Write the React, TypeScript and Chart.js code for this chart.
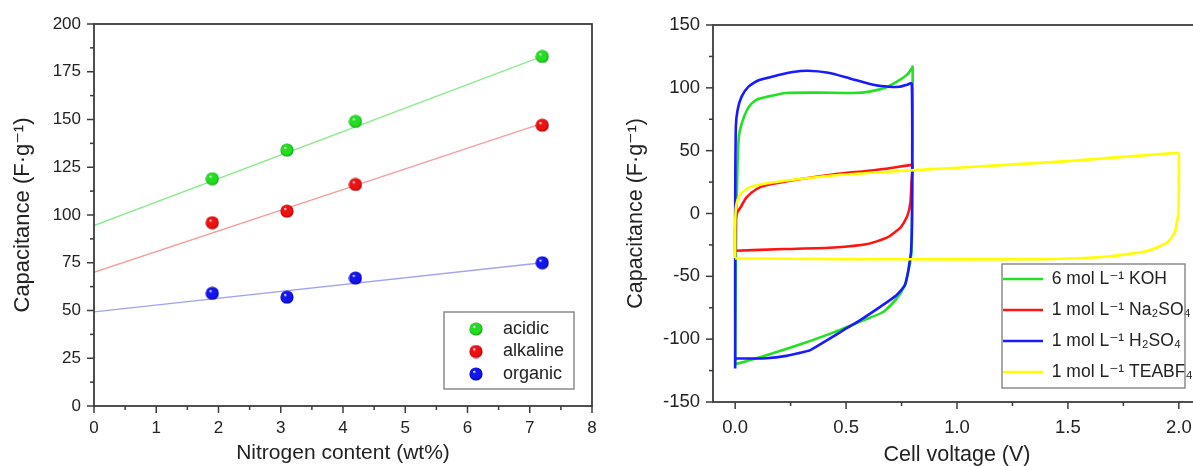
import React, { useEffect, useRef } from "react";
import { Chart, registerables } from "chart.js";

Chart.register(...registerables);

// ---------- Left chart data ----------
const nitrogenX = [1.9, 3.1, 4.2, 7.2];
const acidicY = [119, 134, 149, 183];
const alkalineY = [96, 102, 116, 147];
const organicY = [59, 57, 67, 75];
const fitX = [0, 7.2];
const acidicFit = [94.5, 183];
const alkalineFit = [70, 148];
const organicFit = [49.3, 75];
const leftLabels = ["acidic", "alkaline", "organic"];

// ---------- Right chart data ----------
const kohV = [0, 0.002, 0.005, 0.008, 0.012, 0.019, 0.04, 0.062, 0.095, 0.146, 0.23, 0.38, 0.53, 0.606, 0.682, 0.742, 0.775, 0.798, 0.8, 0.8, 0.798, 0.795, 0.788, 0.78, 0.765, 0.727, 0.667, 0.577, 0.441, 0.291, 0.141, 0.05, 0];
const kohC = [-121, -60, 0, 20, 47.6, 64, 77, 85, 90.5, 93, 95.9, 96.2, 95.9, 97, 100.5, 106.3, 110.5, 116, 117, 60, 0, -30, -40, -46, -57, -67.9, -78.4, -85, -94.8, -104.3, -112.8, -117.5, -120];

const na2so4V = [0, 0, 0.002, 0.01, 0.028, 0.05, 0.095, 0.14, 0.29, 0.44, 0.59, 0.68, 0.79, 0.8, 0.795, 0.79, 0.776, 0.746, 0.686, 0.596, 0.446, 0.22, 0];
const na2so4C = [-29.6, -15, -5, 1, 6, 12.7, 19.3, 22.4, 27.2, 31, 33.8, 35.6, 38.5, 38.5, 25, 8.7, -1.9, -11, -19, -24.3, -27, -28.3, -29.6];

const h2so4V = [0, 0, 0.003, 0.011, 0.029, 0.06, 0.106, 0.19, 0.26, 0.326, 0.42, 0.517, 0.634, 0.693, 0.74, 0.775, 0.796, 0.797, 0.793, 0.785, 0.78, 0.765, 0.727, 0.652, 0.562, 0.5, 0.441, 0.381, 0.336, 0.291, 0.231, 0.141, 0.06, 0];
const h2so4C = [-123.4, 0, 69, 82.6, 93, 101, 106, 110, 112.6, 113.6, 112, 107.5, 102, 100.9, 100.8, 102.5, 103.5, 0, -30, -40, -46, -57, -65, -74.5, -85, -91.5, -98, -104.3, -108.9, -110.9, -113.3, -115.2, -115.4, -115.4];

const teabf4V = [0, 0, 0.004, 0.019, 0.05, 0.095, 0.215, 0.44, 0.74, 0.92, 1.2, 1.5, 1.995, 2.0, 1.998, 1.99, 1.982, 1.948, 1.862, 1.692, 1.436, 1.0, 0.5, 0];
const teabf4C = [-35.7, -9.8, 6, 14, 19.3, 22.4, 25.8, 30.3, 33.8, 35.6, 38.5, 41.7, 48.3, 47, 0, -8, -15, -23, -29.6, -34, -36.2, -36.5, -36.3, -35.7];

const rightLabels = ["6 mol L⁻¹ KOH", "1 mol L⁻¹ Na₂SO₄", "1 mol L⁻¹ H₂SO₄", "1 mol L⁻¹ TEABF₄"];

const leftYTicks = { min: 0, max: 200, step: 25 };
const leftXTicks = { min: 0, max: 8, step: 1 };
const rightYTicks = { min: -150, max: 150, step: 50 };
const rightXTickValues = [0, 0.5, 1.0, 1.5, 2.0];

const FONT = "'Liberation Sans', Arial, 'DejaVu Sans', sans-serif";
const TEXT = "#222";
const AXIS = "#3c3c3c";

const zip = (xs: number[], ys: number[]) => xs.map((x, i) => ({ x, y: ys[i] }));

function sphere(base: string, dark: string) {
  const c = document.createElement("canvas");
  c.width = 14;
  c.height = 14;
  const g = c.getContext("2d")!;
  const grad = g.createRadialGradient(5, 4.5, 0.3, 7, 7, 7);
  grad.addColorStop(0, "#f2f2f2");
  grad.addColorStop(0.22, base);
  grad.addColorStop(0.7, base);
  grad.addColorStop(1, dark);
  g.fillStyle = grad;
  g.beginPath();
  g.arc(7, 7, 6.6, 0, Math.PI * 2);
  g.fill();
  return c;
}

const framePlugin = {
  id: "frame",
  afterDraw(chart: any, _args: any, opts: any) {
    const { ctx, chartArea } = chart;
    const { left, right, top, bottom } = chartArea;
    const xs = chart.scales.x;
    const ys = chart.scales.y;
    ctx.save();
    ctx.strokeStyle = AXIS;
    ctx.lineWidth = 1.8;
    ctx.strokeRect(left, top, right - left, bottom - top);
    ctx.lineWidth = 1.5;
    const drawX = (v: number, len: number) => {
      const p = xs.getPixelForValue(v);
      ctx.beginPath();
      ctx.moveTo(p, bottom);
      ctx.lineTo(p, bottom + len);
      ctx.stroke();
    };
    const drawY = (v: number, len: number) => {
      const p = ys.getPixelForValue(v);
      ctx.beginPath();
      ctx.moveTo(left, p);
      ctx.lineTo(left - len, p);
      ctx.stroke();
    };
    const majX = xs.ticks.map((t: any) => t.value);
    const majY = ys.ticks.map((t: any) => t.value);
    majX.forEach((v: number) => drawX(v, 7));
    majY.forEach((v: number) => drawY(v, 7));
    const minors = (min: number, max: number, step: number, maj: number[]) => {
      const out: number[] = [];
      for (let v = Math.ceil(min / step - 1e-9) * step; v <= max + 1e-9; v += step) {
        if (!maj.some((m) => Math.abs(m - v) < 1e-6)) out.push(v);
      }
      return out;
    };
    minors(xs.min, xs.max, opts.xMinor, majX).forEach((v) => drawX(v, 4));
    minors(ys.min, ys.max, opts.yMinor, majY).forEach((v) => drawY(v, 4));
    if (opts.legendBox) {
      const b = opts.legendBox;
      ctx.strokeStyle = "#8c8c8c";
      ctx.lineWidth = 1.5;
      ctx.strokeRect(b.x, b.y, b.w, b.h);
    }
    ctx.restore();
  },
};

function placeLegend(chart: any, o: any) {
  const lg = chart.legend;
  if (!lg || !o || o.x === undefined) return;
  lg.left = o.x;
  lg.top = o.y;
  lg.right = o.x + lg.width;
  lg.bottom = o.y + 1000;
}

const legendPlacer = {
  id: "legendPlacer",
  afterLayout(chart: any, _a: any, o: any) {
    placeLegend(chart, o);
  },
  beforeDraw(chart: any, _a: any, o: any) {
    placeLegend(chart, o);
  },
};

const noSidePadding = (s: any) => {
  s.paddingLeft = 0;
  s.paddingRight = 0;
};

export default function App() {
  const leftRef = useRef<HTMLCanvasElement>(null);
  const rightRef = useRef<HTMLCanvasElement>(null);

  useEffect(() => {
    Chart.defaults.font.family = FONT;
    const greenBall = sphere("#22dd22", "#0f9a0f");
    const redBall = sphere("#ee1111", "#a00000");
    const blueBall = sphere("#1414ee", "#00009a");

    const pointDs = (label: string, ys: number[], img: HTMLCanvasElement) => ({
      label,
      data: zip(nitrogenX, ys),
      pointStyle: img,
      pointRadius: 7,
      showLine: false,
    });
    const fitDs = (ys: number[], color: string) => ({
      label: "fit",
      data: zip(fitX, ys),
      showLine: true,
      pointRadius: 0,
      borderColor: color,
      borderWidth: 1.4,
      backgroundColor: color,
    });

    const left = new Chart(leftRef.current!, {
      type: "scatter",
      data: {
        datasets: [
          pointDs(leftLabels[0], acidicY, greenBall),
          pointDs(leftLabels[1], alkalineY, redBall),
          pointDs(leftLabels[2], organicY, blueBall),
          fitDs(acidicFit, "#8fea8f"),
          fitDs(alkalineFit, "#f3a0a0"),
          fitDs(organicFit, "#a3a3f5"),
        ] as any,
      },
      options: {
        responsive: false,
        animation: false,
        events: [],
        layout: { padding: { top: 24, right: 7, bottom: 0, left: 0 } },
        scales: {
          x: {
            type: "linear",
            min: leftXTicks.min,
            max: leftXTicks.max,
            grid: { display: false, drawTicks: false },
            border: { display: false },
            ticks: { stepSize: leftXTicks.step, padding: 12, color: TEXT, font: { size: 17 }, maxRotation: 0 },
            title: { display: true, text: "Nitrogen content (wt%)", color: TEXT, font: { size: 21, lineHeight: 1 }, padding: { top: 0, bottom: 2 } },
            afterFit: (s: any) => { s.height = 60; noSidePadding(s); },
          },
          y: {
            type: "linear",
            min: leftYTicks.min,
            max: leftYTicks.max,
            grid: { display: false, drawTicks: false },
            border: { display: false },
            ticks: { stepSize: leftYTicks.step, padding: 13, color: TEXT, font: { size: 17 } },
            title: { display: true, text: "Capacitance (F·g⁻¹)", color: TEXT, font: { size: 22, lineHeight: 1 }, padding: { top: 12, bottom: 0 } },
            afterFit: (s: any) => { s.width = 94; },
          },
        },
        plugins: {
          tooltip: { enabled: false },
          legend: {
            position: "chartArea" as any,
            align: "start",
            labels: {
              usePointStyle: true,
              pointStyleWidth: 36,
              padding: 4.5,
              color: TEXT,
              font: { size: 18 },
              filter: (item: any) => item.datasetIndex < 3,
            },
          },
          frame: { xMinor: 0.5, yMinor: 12.5, legendBox: { x: 444, y: 312, w: 130, h: 77 } },
          legendPlacer: { x: 453.5, y: 315.5 },
        } as any,
      },
      plugins: [framePlugin, legendPlacer],
    } as any);

    const lineDs = (label: string, xs: number[], ys: number[], color: string, order: number) => ({
      label,
      data: zip(xs, ys),
      showLine: true,
      pointRadius: 0,
      borderColor: color,
      backgroundColor: color,
      borderWidth: 2.6,
      tension: 0.2,
      order,
    });

    const right = new Chart(rightRef.current!, {
      type: "scatter",
      data: {
        datasets: [
          lineDs(rightLabels[0], kohV, kohC, "#22e022", 3),
          lineDs(rightLabels[1], na2so4V, na2so4C, "#ff1414", 2),
          lineDs(rightLabels[2], h2so4V, h2so4C, "#1a1aff", 1),
          lineDs(rightLabels[3], teabf4V, teabf4C, "#ffff00", 0),
        ] as any,
      },
      options: {
        responsive: false,
        animation: false,
        events: [],
        layout: { padding: { top: 25, right: 19, bottom: 0, left: 0 } },
        scales: {
          x: {
            type: "linear",
            min: -0.1,
            max: 2.1,
            grid: { display: false, drawTicks: false },
            border: { display: false },
            afterBuildTicks: (s: any) => { s.ticks = rightXTickValues.map((v) => ({ value: v })); },
            ticks: { padding: 15, color: TEXT, font: { size: 18.5 }, maxRotation: 0, autoSkip: false, callback: (v: any) => Number(v).toFixed(1) },
            title: { display: true, text: "Cell voltage (V)", color: TEXT, font: { size: 21.5, lineHeight: 1 }, padding: { top: 0, bottom: 0 } },
            afterFit: (s: any) => { s.height = 64; noSidePadding(s); },
          },
          y: {
            type: "linear",
            min: rightYTicks.min,
            max: rightYTicks.max,
            grid: { display: false, drawTicks: false },
            border: { display: false },
            ticks: { stepSize: rightYTicks.step, padding: 13, color: TEXT, font: { size: 18.5 } },
            title: { display: true, text: "Capacitance (F·g⁻¹)", color: TEXT, font: { size: 21.5, lineHeight: 1 }, padding: { top: 25, bottom: 0 } },
            afterFit: (s: any) => { s.width = 113; },
          },
        },
        plugins: {
          tooltip: { enabled: false },
          legend: {
            position: "chartArea" as any,
            align: "start",
            labels: {
              usePointStyle: true,
              pointStyle: "line",
              pointStyleWidth: 40,
              padding: 13.5,
              color: TEXT,
              font: { size: 17.5 },
              sort: (a: any, b: any) => a.datasetIndex - b.datasetIndex,
            },
          },
          frame: { xMinor: 0.25, yMinor: 25, legendBox: { x: 402, y: 264, w: 183, h: 124 } },
          legendPlacer: { x: 389.5, y: 256.75 },
        } as any,
      },
      plugins: [framePlugin, legendPlacer],
    } as any);

    return () => {
      left.destroy();
      right.destroy();
    };
  }, []);

  return (
    <div style={{ position: "fixed", left: 0, top: 0, width: 1193, height: 466, overflow: "hidden", background: "#fff" }}>
      <canvas ref={leftRef} width={600} height={466} style={{ position: "absolute", left: 0, top: 0 }} />
      <canvas ref={rightRef} width={620} height={466} style={{ position: "absolute", left: 600, top: 0 }} />
    </div>
  );
}
